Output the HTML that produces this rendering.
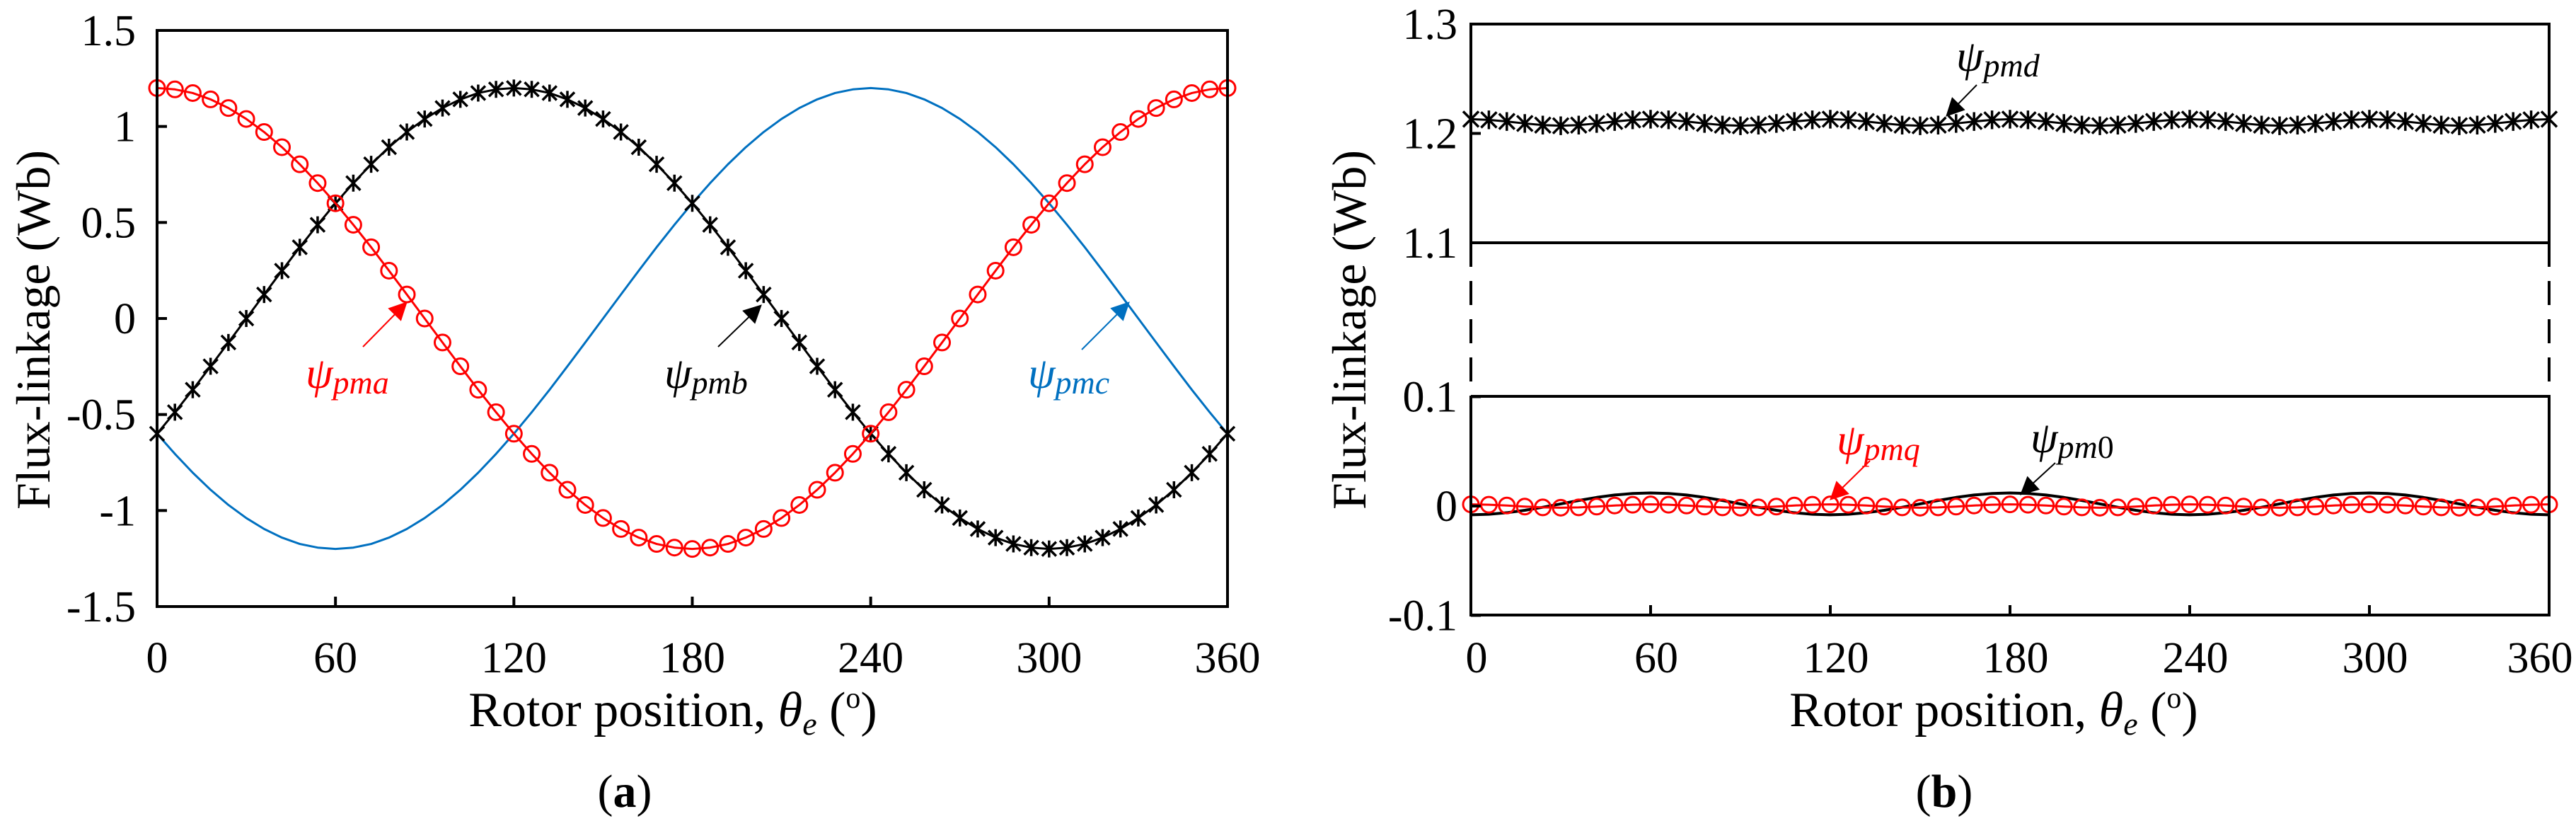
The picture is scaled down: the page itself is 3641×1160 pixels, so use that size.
<!DOCTYPE html>
<html><head><meta charset="utf-8"><style>
html,body{margin:0;padding:0;background:#fff}
svg{display:block;font-family:"Liberation Serif",serif}
</style></head><body>
<svg id="chart" width="3641" height="1160" viewBox="0 0 3641 1160" xmlns="http://www.w3.org/2000/svg">
<defs>
<marker id="ahr" viewBox="0 0 10 10" refX="9" refY="5" markerUnits="userSpaceOnUse" markerWidth="30" markerHeight="26" orient="auto"><path d="M0,0L10,5L0,10z" fill="#f00"/></marker>
<marker id="ahk" viewBox="0 0 10 10" refX="9" refY="5" markerUnits="userSpaceOnUse" markerWidth="30" markerHeight="26" orient="auto"><path d="M0,0L10,5L0,10z" fill="#000"/></marker>
<marker id="ahb" viewBox="0 0 10 10" refX="9" refY="5" markerUnits="userSpaceOnUse" markerWidth="30" markerHeight="26" orient="auto"><path d="M0,0L10,5L0,10z" fill="#0070c0"/></marker>
</defs>
<g id="pa"></g>
<g id="pb"></g>
<g font-family="Liberation Serif,serif">
<text transform="translate(70,466) rotate(-90)" font-size="68" text-anchor="middle">Flux-linkage (Wb)</text>
<text x="951" y="1026" font-size="70" text-anchor="middle">Rotor position, <tspan font-style="italic">θ</tspan><tspan font-style="italic" font-size="46" dy="12">e</tspan><tspan dy="-12"> (</tspan><tspan font-size="42" dy="-26">o</tspan><tspan dy="26">)</tspan></text>
<text x="883" y="1140" font-size="66" text-anchor="middle">(<tspan font-weight="bold">a</tspan>)</text>
<text transform="translate(1930,466) rotate(-90)" font-size="68" text-anchor="middle">Flux-linkage (Wb)</text>
<text x="2818" y="1026" font-size="70" text-anchor="middle">Rotor position, <tspan font-style="italic">θ</tspan><tspan font-style="italic" font-size="46" dy="12">e</tspan><tspan dy="-12"> (</tspan><tspan font-size="42" dy="-26">o</tspan><tspan dy="26">)</tspan></text>
<text x="2748" y="1140" font-size="66" text-anchor="middle">(<tspan font-weight="bold">b</tspan>)</text>
<g font-style="italic" font-size="62">
<text x="432" y="548" fill="#f00">ψ<tspan font-size="46" dy="8">pma</tspan></text>
<text x="939" y="548" fill="#000">ψ<tspan font-size="46" dy="8">pmb</tspan></text>
<text x="1453" y="548" fill="#0070c0">ψ<tspan font-size="46" dy="8">pmc</tspan></text>
<text x="2765" y="100" fill="#000">ψ<tspan font-size="46" dy="8">pmd</tspan></text>
<text x="2596" y="642" fill="#f00">ψ<tspan font-size="46" dy="8">pmq</tspan></text>
<text x="2870" y="639" fill="#000">ψ<tspan font-size="46" dy="8">pm</tspan><tspan font-size="46" font-style="normal">0</tspan></text>
</g>
<line x1="513" y1="490" x2="574" y2="428" stroke="#f00" stroke-width="2" marker-end="url(#ahr)"/>
<line x1="1015" y1="490" x2="1075" y2="432" stroke="#000" stroke-width="2" marker-end="url(#ahk)"/>
<line x1="1529" y1="494" x2="1595" y2="428" stroke="#0070c0" stroke-width="2" marker-end="url(#ahb)"/>
<line x1="2794" y1="120" x2="2752" y2="163" stroke="#000" stroke-width="2" marker-end="url(#ahk)"/>
<line x1="2643" y1="651" x2="2588" y2="705" stroke="#f00" stroke-width="2" marker-end="url(#ahr)"/>
<line x1="2905" y1="654" x2="2857" y2="698" stroke="#000" stroke-width="2" marker-end="url(#ahk)"/>
</g>
</svg>
<script>
const angles=[0,6,12,18,24,30,36,42,48,54,60,66,72,78,84,90,96,102,108,114,120,126,132,138,144,150,156,162,168,174,180,186,192,198,204,210,216,222,228,234,240,246,252,258,264,270,276,282,288,294,300,306,312,318,324,330,336,342,348,354,360];
const psiA=[1.2,1.193,1.174,1.141,1.096,1.039,.971,.892,.803,.705,.6,.488,.371,.249,.125,0,-.125,-.249,-.371,-.488,-.6,-.705,-.803,-.892,-.971,-1.039,-1.096,-1.141,-1.174,-1.193,-1.2,-1.193,-1.174,-1.141,-1.096,-1.039,-.971,-.892,-.803,-.705,-.6,-.488,-.371,-.249,-.125,0,.125,.249,.371,.488,.6,.705,.803,.892,.971,1.039,1.096,1.141,1.174,1.193,1.2];
const psiB=[-.6,-.488,-.371,-.249,-.125,0,.125,.249,.371,.488,.6,.705,.803,.892,.971,1.039,1.096,1.141,1.174,1.193,1.2,1.193,1.174,1.141,1.096,1.039,.971,.892,.803,.705,.6,.488,.371,.249,.125,0,-.125,-.249,-.371,-.488,-.6,-.705,-.803,-.892,-.971,-1.039,-1.096,-1.141,-1.174,-1.193,-1.2,-1.193,-1.174,-1.141,-1.096,-1.039,-.971,-.892,-.803,-.705,-.6];
const psiC=[-.6,-.705,-.803,-.892,-.971,-1.039,-1.096,-1.141,-1.174,-1.193,-1.2,-1.193,-1.174,-1.141,-1.096,-1.039,-.971,-.892,-.803,-.705,-.6,-.488,-.371,-.249,-.125,0,.125,.249,.371,.488,.6,.705,.803,.892,.971,1.039,1.096,1.141,1.174,1.193,1.2,1.193,1.174,1.141,1.096,1.039,.971,.892,.803,.705,.6,.488,.371,.249,.125,0,-.125,-.249,-.371,-.488,-.6];
const psiD=[1.213,1.2124,1.2109,1.2091,1.2076,1.207,1.2076,1.2091,1.2109,1.2124,1.213,1.2124,1.2109,1.2091,1.2076,1.207,1.2076,1.2091,1.2109,1.2124,1.213,1.2124,1.2109,1.2091,1.2076,1.207,1.2076,1.2091,1.2109,1.2124,1.213,1.2124,1.2109,1.2091,1.2076,1.207,1.2076,1.2091,1.2109,1.2124,1.213,1.2124,1.2109,1.2091,1.2076,1.207,1.2076,1.2091,1.2109,1.2124,1.213,1.2124,1.2109,1.2091,1.2076,1.207,1.2076,1.2091,1.2109,1.2124,1.213];
const psiQ=[.0015,.0012,.0005,-.0005,-.0012,-.0015,-.0012,-.0005,.0005,.0012,.0015,.0012,.0005,-.0005,-.0012,-.0015,-.0012,-.0005,.0005,.0012,.0015,.0012,.0005,-.0005,-.0012,-.0015,-.0012,-.0005,.0005,.0012,.0015,.0012,.0005,-.0005,-.0012,-.0015,-.0012,-.0005,.0005,.0012,.0015,.0012,.0005,-.0005,-.0012,-.0015,-.0012,-.0005,.0005,.0012,.0015,.0012,.0005,-.0005,-.0012,-.0015,-.0012,-.0005,.0005,.0012,.0015];
const psi0=[-.008,-.0075,-.0061,-.0039,-.0011,.002,.0051,.0079,.0101,.0115,.012,.0115,.0101,.0079,.0051,.002,-.0011,-.0039,-.0061,-.0075,-.008,-.0075,-.0061,-.0039,-.0011,.002,.0051,.0079,.0101,.0115,.012,.0115,.0101,.0079,.0051,.002,-.0011,-.0039,-.0061,-.0075,-.008,-.0075,-.0061,-.0039,-.0011,.002,.0051,.0079,.0101,.0115,.012,.0115,.0101,.0079,.0051,.002,-.0011,-.0039,-.0061,-.0075,-.008];
const xTicks=[0,60,120,180,240,300,360];
const yTicksA=[1.5,1,0.5,0,-0.5,-1,-1.5];
const yTicksALabels=["1.5","1","0.5","0","-0.5","-1","-1.5"];
const yTicksB=[1.3,1.2,1.1,0.1,0,-0.1];
const yTicksBLabels=["1.3","1.2","1.1","0.1","0","-0.1"];

const NS="http://www.w3.org/2000/svg";
function mk(p,t,a,txt){const e=document.createElementNS(NS,t);for(const k in a)e.setAttribute(k,a[k]);if(txt!==undefined)e.textContent=txt;p.appendChild(e);return e;}

const A=document.getElementById('pa');
const ax={l:222,r:1735,t:43,b:857};
const xA=v=>ax.l+(v/360)*(ax.r-ax.l);
const yA=v=>ax.t+(1.5-v)/3*(ax.b-ax.t);
function poly(p,xs,ys,fx,fy,col,w,name){
  const e=mk(p,'polyline',{points:xs.map((x,i)=>fx(x)+','+fy(ys[i])).join(' '),fill:'none',stroke:col,'stroke-width':w,'stroke-linejoin':'round'});
  
  
}
function circles(p,xs,ys,fx,fy,name){
  const g=mk(p,'g',{});
  
  
  xs.forEach((x,i)=>{const c=mk(g,'circle',{cx:fx(x),cy:fy(ys[i]),r:11,fill:'none',stroke:'#f00','stroke-width':3});
  
  });
}
function crosses(p,xs,ys,fx,fy,name,s,star){
  const g=mk(p,'g',{stroke:'#000','stroke-width':3.5});
  
  
  xs.forEach((x,i)=>{const X=fx(x),Y=fy(ys[i]);
    mk(g,'path',{d:`M${X-s},${Y-s}L${X+s},${Y+s}M${X-s},${Y+s}L${X+s},${Y-s}`+(star?`M${X},${Y-s*1.2}L${X},${Y+s*1.2}`:'')});});
}
poly(A,angles,psiC,xA,yA,'#0070c0',3,'psi-pmc-line');
poly(A,angles,psiB,xA,yA,'#000',3,'psi-pmb-line');
crosses(A,angles,psiB,xA,yA,'psi-pmb-markers',10,true);
poly(A,angles,psiA,xA,yA,'#f00',3,'psi-pma-line');
circles(A,angles,psiA,xA,yA,'psi-pma-markers');
let fr=mk(A,'rect',{x:ax.l,y:ax.t,width:ax.r-ax.l,height:ax.b-ax.t,fill:'none',stroke:'#000','stroke-width':4});

xTicks.forEach(v=>{mk(A,'line',{x1:xA(v),x2:xA(v),y1:ax.b,y2:ax.b-14,stroke:'#000','stroke-width':4});
  const t=mk(A,'text',{x:xA(v),y:950,'font-size':62,'text-anchor':'middle'},String(v));
  });
yTicksA.forEach((v,i)=>{mk(A,'line',{x1:ax.l,x2:ax.l+14,y1:yA(v),y2:yA(v),stroke:'#000','stroke-width':4});
  const t=mk(A,'text',{x:192,y:yA(v)+21,'font-size':62,'text-anchor':'end'},yTicksALabels[i]);
  });

const B=document.getElementById('pb');
const bx={l:2079,r:3603,t:34,b:869,u:343,lw:560,z:715};
const xB=v=>bx.l+(v/360)*(bx.r-bx.l);
const yB=v=>v>0.5?bx.u-(v-1.1)*1545:bx.z-v*1545;
poly(B,angles,psi0,xB,yB,'#000',4,'psi-pm0-line');
poly(B,angles,psiQ,xB,yB,'#f00',3,'psi-pmq-line');
circles(B,angles,psiQ,xB,yB,'psi-pmq-markers');
poly(B,angles,psiD,xB,yB,'#000',3,'psi-pmd-line');
crosses(B,angles,psiD,xB,yB,'psi-pmd-markers',11,true);
let f1=mk(B,'path',{d:`M${bx.l},${bx.u}V${bx.t}H${bx.r}V${bx.u}H${bx.l}`,fill:'none',stroke:'#000','stroke-width':4});

let f2=mk(B,'path',{d:`M${bx.l},${bx.lw}V${bx.b}H${bx.r}V${bx.lw}H${bx.l}`,fill:'none',stroke:'#000','stroke-width':4});

[bx.l,bx.r].forEach(x=>{const d=mk(B,'line',{x1:x,x2:x,y1:bx.u,y2:bx.lw,stroke:'#000','stroke-width':4,'stroke-dasharray':'34 20'});
  });
xTicks.forEach(v=>{mk(B,'line',{x1:xB(v),x2:xB(v),y1:bx.b,y2:bx.b-14,stroke:'#000','stroke-width':4});
  const t=mk(B,'text',{x:Math.min(xB(v)+8,3590),y:950,'font-size':62,'text-anchor':'middle'},String(v));
  });
yTicksB.forEach((v,i)=>{mk(B,'line',{x1:bx.l,x2:bx.l+14,y1:yB(v),y2:yB(v),stroke:'#000','stroke-width':4});
  const t=mk(B,'text',{x:2060,y:yB(v)+21,'font-size':62,'text-anchor':'end'},yTicksBLabels[i]);
  });
</script>
</body></html>
